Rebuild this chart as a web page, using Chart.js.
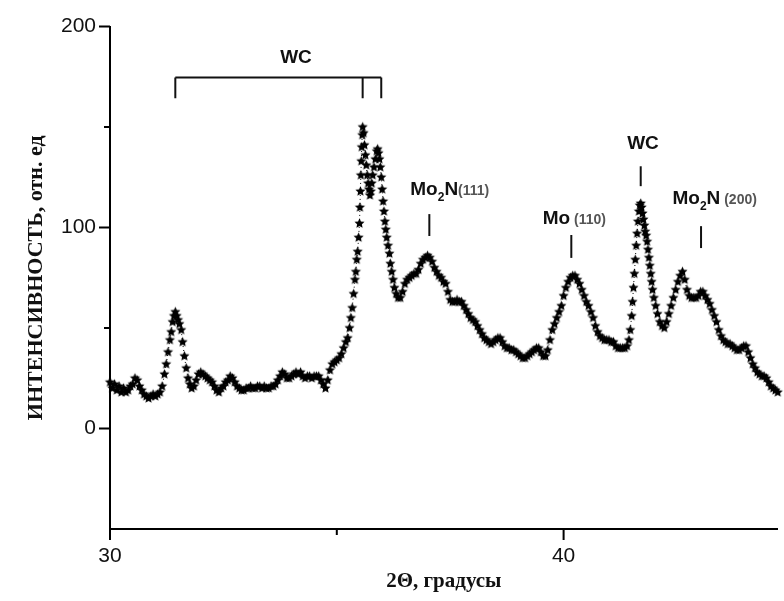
<!DOCTYPE html>
<html>
<head>
<meta charset="utf-8">
<script src="https://cdn.jsdelivr.net/npm/chart.js@4.4.0/dist/chart.umd.min.js"></script>
<style>
  html, body { margin: 0; padding: 0; background: #fff; }
</style>
</head>
<body>
<canvas id="xrd" width="784" height="601"></canvas>
<script>
// 2θ (degrees) and intensity
const twoTheta = [
  30.00,30.05,30.10,30.15,30.20,30.25,30.30,30.35,30.40,30.45,
  30.50,30.55,30.60,30.65,30.70,30.75,30.80,30.85,30.90,30.95,
  31.00,31.05,31.10,31.15,31.20,31.24,31.28,31.32,31.35,31.38,
  31.41,31.44,31.47,31.50,31.53,31.57,31.60,31.64,31.68,31.72,
  31.76,31.80,31.85,31.90,31.95,32.00,32.05,32.10,32.15,32.20,
  32.25,32.30,32.35,32.40,32.45,32.50,32.55,32.60,32.65,32.70,
  32.75,32.80,32.85,32.90,32.95,33.00,33.05,33.10,33.15,33.20,
  33.25,33.30,33.35,33.40,33.45,33.50,33.55,33.60,33.65,33.70,
  33.75,33.80,33.85,33.90,33.95,34.00,34.05,34.10,34.15,34.20,
  34.25,34.30,34.35,34.40,34.45,34.50,34.55,34.60,34.65,34.70,
  34.75,34.80,34.85,34.90,34.95,35.00,35.05,35.10,35.15,35.20,
  35.24,35.28,35.31,35.34,35.37,35.40,35.42,35.44,35.46,35.48,
  35.50,35.51,35.52,35.53,35.54,35.55,35.56,35.57,35.59,35.61,
  35.63,35.65,35.67,35.69,35.71,35.73,35.75,35.77,35.79,35.82,
  35.85,35.88,35.90,35.92,35.94,35.96,35.98,36.00,36.02,36.04,
  36.06,36.08,36.10,36.13,36.16,36.18,36.21,36.24,36.27,36.31,
  36.35,36.40,36.45,36.50,36.55,36.60,36.65,36.70,36.75,36.80,
  36.85,36.90,36.95,37.00,37.05,37.10,37.15,37.20,37.25,37.30,
  37.35,37.40,37.45,37.50,37.55,37.60,37.65,37.70,37.75,37.80,
  37.85,37.90,37.95,38.00,38.05,38.10,38.15,38.20,38.25,38.30,
  38.35,38.40,38.45,38.50,38.55,38.60,38.65,38.70,38.75,38.80,
  38.85,38.90,38.95,39.00,39.05,39.10,39.15,39.20,39.25,39.30,
  39.35,39.40,39.45,39.50,39.55,39.60,39.65,39.70,39.75,39.80,
  39.85,39.90,39.95,40.00,40.05,40.10,40.15,40.20,40.25,40.30,
  40.35,40.40,40.45,40.50,40.55,40.60,40.65,40.70,40.75,40.80,
  40.85,40.90,40.95,41.00,41.05,41.10,41.15,41.20,41.25,41.30,
  41.35,41.40,41.44,41.47,41.50,41.52,41.54,41.56,41.58,41.60,
  41.62,41.64,41.66,41.68,41.70,41.72,41.74,41.76,41.78,41.80,
  41.82,41.84,41.86,41.88,41.90,41.92,41.94,41.96,41.99,42.03,
  42.07,42.12,42.17,42.22,42.27,42.32,42.37,42.42,42.47,42.52,
  42.57,42.62,42.67,42.72,42.77,42.82,42.87,42.92,42.97,43.02,
  43.07,43.12,43.17,43.22,43.27,43.32,43.37,43.42,43.47,43.52,
  43.57,43.62,43.67,43.72,43.77,43.82,43.87,43.92,43.97,44.02,
  44.07,44.12,44.17,44.22,44.27,44.32,44.37,44.42,44.47,44.52,
  44.57,44.62,44.67,44.72
];
const intensity = [
  23,20,22,19,21,18,20,18,19,21,
  22,25,24,21,19,17,16,15,16,17,
  16,17,18,21,27,32,38,44,48,53,
  56,58,56,54,52,49,43,36,30,25,
  22,20,21,24,27,28,27,26,25,24,
  23,21,19,18,20,21,23,24,26,25,
  23,21,20,19,19,20,20,21,20,20,
  21,21,20,21,20,20,21,21,22,24,
  26,28,27,25,25,26,27,28,27,28,
  26,25,26,26,25,26,26,26,24,22,
  20,24,29,32,33,34,35,37,40,43,
  45,50,55,60,67,74,78,84,88,95,
  102,110,118,126,133,140,146,150,147,141,
  136,131,126,122,119,116,118,122,126,130,
  134,138,139,137,134,130,125,119,113,108,
  103,99,95,91,87,82,78,74,70,67,
  65,65,68,72,74,75,76,77,77,79,
  82,84,85,86,85,83,80,78,76,75,
  73,72,68,64,63,63,64,63,63,61,
  59,57,55,54,53,51,49,47,45,44,
  43,42,43,44,45,45,43,41,40,40,
  39,39,38,37,36,35,35,36,37,38,
  39,40,40,38,36,36,39,44,49,52,
  55,58,61,66,70,73,75,76,76,74,
  72,69,66,63,61,58,55,51,48,46,
  45,44,44,44,43,43,41,40,40,40,
  40,41,44,49,56,63,70,77,84,91,
  97,103,108,111,112,110,107,104,101,98,
  96,93,89,85,81,77,73,69,65,61,
  57,53,51,50,53,57,61,65,69,73,
  76,78,74,69,66,65,65,65,66,68,
  68,66,64,62,59,56,53,49,46,44,
  43,42,42,41,40,39,39,40,41,41,
  38,35,32,30,28,27,26,26,25,23,
  21,20,19,18
];

const xMajor = [30, 40];
const xMinor = [35];
const yMajor = [0, 100, 200];
const yMinor = [50, 150];

// phase labels (positions in data units)
const wcBracket = { ends: [31.44, 35.57, 35.98], top: 174.7, bottom: 164.3, label: 'WC', labelX: 34.1, labelY: 182 };
const peakMarks = [
  { x: 37.04, from: 95.8, to: 106.7, textX: 36.62, textY: 116, parts: [['Mo', 'big'], ['2', 'sub'], ['N', 'big'], ['(111)', 'hkl']] },
  { x: 40.17, from: 84.9, to: 96.3, textX: 39.54, textY: 101.7, parts: [['Mo', 'big'], [' ', 'hkl'], ['(110)', 'hkl']] },
  { x: 41.70, from: 120.6, to: 130.5, textX: 41.75, textY: 139, center: true, parts: [['WC', 'big']] },
  { x: 43.03, from: 89.8, to: 100.7, textX: 42.40, textY: 111.7, parts: [['Mo', 'big'], ['2', 'sub'], ['N', 'big'], [' ', 'hkl'], ['(200)', 'hkl']] }
];

const fonts = {
  big: { font: 'bold 19px "Liberation Sans", Arial', color: '#111', dy: 0 },
  sub: { font: 'bold 12px "Liberation Sans", Arial', color: '#111', dy: 6 },
  hkl: { font: 'bold 14px "Liberation Sans", Arial', color: '#555', dy: 0 }
};

function makeStar(r) {
  const size = Math.ceil(r * 2) + 2;
  const c = document.createElement('canvas');
  c.width = c.height = size;
  const g = c.getContext('2d');
  g.translate(size / 2, size / 2);
  g.beginPath();
  for (let i = 0; i < 10; i++) {
    const rad = i % 2 ? r * 0.47 : r;
    const a = -Math.PI / 2 + i * Math.PI / 5;
    g.lineTo(rad * Math.cos(a), rad * Math.sin(a));
  }
  g.closePath();
  g.fillStyle = '#000';
  g.fill();
  return c;
}

const axisTicks = {
  id: 'axisTicks',
  afterDraw(chart) {
    const { ctx, scales: { x, y }, chartArea } = chart;
    ctx.save();
    ctx.strokeStyle = '#000';
    ctx.lineWidth = 2;
    ctx.beginPath();
    xMajor.forEach(v => { const px = x.getPixelForValue(v); ctx.moveTo(px, chartArea.bottom); ctx.lineTo(px, chartArea.bottom + 11); });
    xMinor.forEach(v => { const px = x.getPixelForValue(v); ctx.moveTo(px, chartArea.bottom); ctx.lineTo(px, chartArea.bottom + 6); });
    yMajor.forEach(v => { const py = y.getPixelForValue(v); ctx.moveTo(chartArea.left, py); ctx.lineTo(chartArea.left - 11, py); });
    yMinor.forEach(v => { const py = y.getPixelForValue(v); ctx.moveTo(chartArea.left, py); ctx.lineTo(chartArea.left - 6, py); });
    ctx.stroke();
    ctx.restore();
  }
};

const phaseLabels = {
  id: 'phaseLabels',
  afterDatasetsDraw(chart) {
    const { ctx, scales: { x, y } } = chart;
    ctx.save();
    ctx.strokeStyle = '#111';
    ctx.lineWidth = 2;
    // WC bracket
    const yt = y.getPixelForValue(wcBracket.top);
    const yb = y.getPixelForValue(wcBracket.bottom);
    const xs = wcBracket.ends.map(v => x.getPixelForValue(v));
    ctx.beginPath();
    ctx.moveTo(xs[0], yt);
    ctx.lineTo(xs[xs.length - 1], yt);
    xs.forEach(px => { ctx.moveTo(px, yt); ctx.lineTo(px, yb); });
    ctx.stroke();
    ctx.font = fonts.big.font;
    ctx.fillStyle = fonts.big.color;
    ctx.textAlign = 'center';
    ctx.textBaseline = 'alphabetic';
    ctx.fillText(wcBracket.label, x.getPixelForValue(wcBracket.labelX), y.getPixelForValue(wcBracket.labelY));

    peakMarks.forEach(m => {
      const px = x.getPixelForValue(m.x);
      ctx.beginPath();
      ctx.moveTo(px, y.getPixelForValue(m.from));
      ctx.lineTo(px, y.getPixelForValue(m.to));
      ctx.stroke();

      let width = 0;
      m.parts.forEach(([t, k]) => { ctx.font = fonts[k].font; width += ctx.measureText(t).width; });
      let tx = x.getPixelForValue(m.textX);
      if (m.center) tx -= width / 2;
      const ty = y.getPixelForValue(m.textY);
      ctx.textAlign = 'left';
      m.parts.forEach(([t, k]) => {
        const f = fonts[k];
        ctx.font = f.font;
        ctx.fillStyle = f.color;
        ctx.fillText(t, tx, ty + f.dy);
        tx += ctx.measureText(t).width;
      });
    });
    ctx.restore();
  }
};

const points = twoTheta.map((t, i) => ({ x: t, y: intensity[i] }));

new Chart(document.getElementById('xrd'), {
  type: 'scatter',
  data: {
    datasets: [{
      data: points,
      showLine: true,
      borderColor: '#000',
      borderWidth: 1,
      borderDash: [1, 3],
      pointStyle: makeStar(5.3),
      pointRadius: 5.3,
      pointHoverRadius: 5.3,
      clip: false
    }]
  },
  options: {
    responsive: false,
    animation: false,
    devicePixelRatio: 1,
    layout: { padding: { top: 25, right: 0, left: 0, bottom: 0 } },
    plugins: {
      legend: { display: false },
      tooltip: { enabled: false }
    },
    scales: {
      x: {
        type: 'linear',
        min: 30,
        max: 44.72,
        border: { display: true, color: '#000', width: 2 },
        grid: { display: false, drawTicks: false },
        ticks: {
          stepSize: 5,
          includeBounds: false,
          autoSkip: false,
          maxRotation: 0,
          padding: 15,
          color: '#111',
          font: { family: '"Liberation Sans", Arial', size: 21 },
          callback: v => xMajor.includes(v) ? String(v) : ''
        },
        title: {
          display: true,
          text: '2Θ, градусы',
          color: '#111',
          font: { family: '"Liberation Serif", "Times New Roman"', size: 21, weight: 'bold' },
          padding: { top: 0, bottom: 7 }
        },
        afterFit: s => { s.height = 72; }
      },
      y: {
        min: -50,
        max: 200,
        border: { display: true, color: '#000', width: 2 },
        grid: { display: false, drawTicks: false },
        ticks: {
          stepSize: 50,
          autoSkip: false,
          padding: 14,
          color: '#111',
          font: { family: '"Liberation Sans", Arial', size: 21 },
          callback: v => yMajor.includes(v) ? String(v) : ''
        },
        title: {
          display: true,
          text: 'ИНТЕНСИВНОСТЬ, отн. ед',
          color: '#111',
          font: { family: '"Liberation Serif", "Times New Roman"', size: 22, weight: 'bold' },
          padding: { top: 23, bottom: 0 }
        },
        afterFit: s => { s.width = 110; }
      }
    }
  },
  plugins: [axisTicks, phaseLabels]
});
</script>
</body>
</html>
